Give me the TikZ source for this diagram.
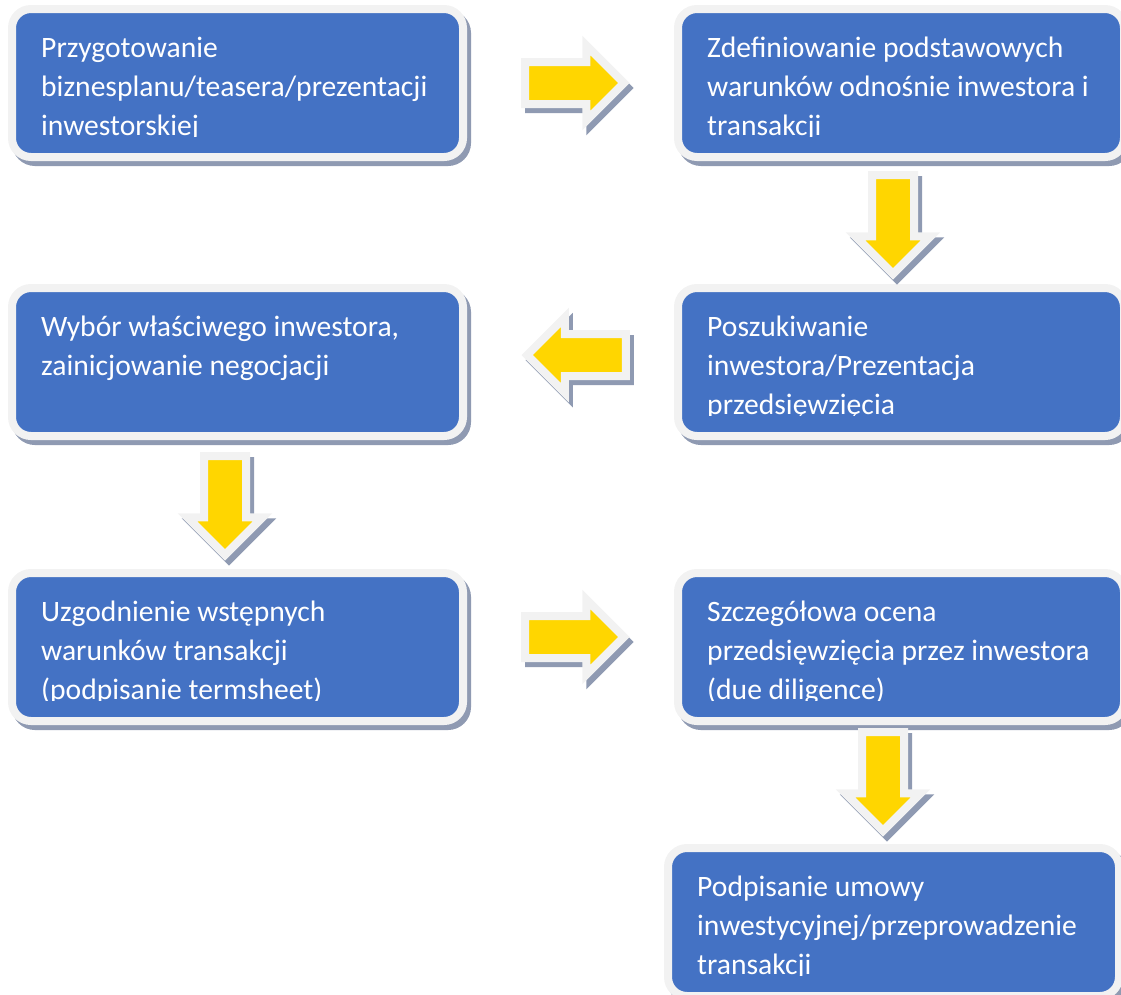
\documentclass[tikz,border=0pt]{standalone}
\usepackage{fontspec}
\setmainfont{Carlito}
\usetikzlibrary{shapes.arrows}
\definecolor{stepblue}{RGB}{68,114,196}
\definecolor{rimgray}{RGB}{242,242,242}
\definecolor{shadowgray}{RGB}{143,154,178}
\definecolor{arrowyellow}{RGB}{255,214,0}
\tikzset{
  castshadow/.style={preaction={draw=shadowgray, fill=shadowgray,
                     transform canvas={shift={(4pt,-5pt)}}}},
  stepbox/.style={rectangle, draw=rimgray, line width=8pt, fill=stepblue,
                  rounded corners=19pt, minimum width=451pt,
                  minimum height=148pt, inner sep=0pt, castshadow},
  stepboxr/.style={stepbox, minimum width=446pt},
  boxtext/.style={font=\fontsize{29.6}{39}\selectfont, text=white,
                  align=left, anchor=north west, inner sep=0pt},
  flowarrow/.style={single arrow, draw=rimgray, line width=8pt,
                    fill=arrowyellow, minimum height=98.7pt,
                    inner xsep=0pt, inner ysep=17pt,
                    single arrow head extend=16.6pt, castshadow},
  flowarrowdown/.style={flowarrow, shape border rotate=270,
                        inner xsep=17pt, inner ysep=0pt},
}
% text of a box, cut off a little above the bottom as in the original
\newcommand{\steptext}[3]{%
  \begin{scope}
    \clip (#1.north west) rectangle ([yshift=-131pt]#1.north east);
    \node[boxtext] (#2) at ([xshift=33pt,yshift=-24.7pt]#1.north west)
      {\strut #3};
  \end{scope}}

\begin{document}
\begin{tikzpicture}[x=1pt,y=-1pt]
  \useasboundingbox (0,0) rectangle (1121,994);

  % boxes
  \node[stepbox]  (B1) at (237.5,83)  {};
  \node[stepboxr] (B2) at (901,83)    {};
  \node[stepboxr] (B3) at (901,362)   {};
  \node[stepbox]  (B4) at (237.5,362) {};
  \node[stepbox]  (B5) at (237.5,647) {};
  \node[stepboxr] (B6) at (901,647)   {};
  \node[stepbox]  (B7) at (893.5,922) {};

  \steptext{B1}{T1}{Przygotowanie\\biznesplanu/teasera/prezentacji\\inwestorskiej}
  \steptext{B2}{T2}{Zdefiniowanie podstawowych\\warunków odnośnie inwestora i\\transakcji}
  \steptext{B3}{T3}{Poszukiwanie\\inwestora/Prezentacja\\przedsięwzięcia}
  \steptext{B4}{T4}{Wybór właściwego inwestora,\\zainicjowanie negocjacji}
  \steptext{B5}{T5}{Uzgodnienie wstępnych\\warunków transakcji\\(podpisanie termsheet)}
  \steptext{B6}{T6}{Szczegółowa ocena\\przedsięwzięcia przez inwestora\\(due diligence)}
  \steptext{B7}{T7}{Podpisanie umowy\\inwestycyjnej/przeprowadzenie\\transakcji}

  % block arrows between the steps
  \node[flowarrow] (A12) at (564,83)  {};
  \node[flowarrowdown] (A23) at (893,214) {};
  \node[flowarrow, shape border rotate=180] (A34) at (587,355) {};
  \node[flowarrowdown] (A45) at (225,495) {};
  \node[flowarrow] (A56) at (564,637) {};
  \node[flowarrowdown] (A67) at (883,771) {};
\end{tikzpicture}
\end{document}
